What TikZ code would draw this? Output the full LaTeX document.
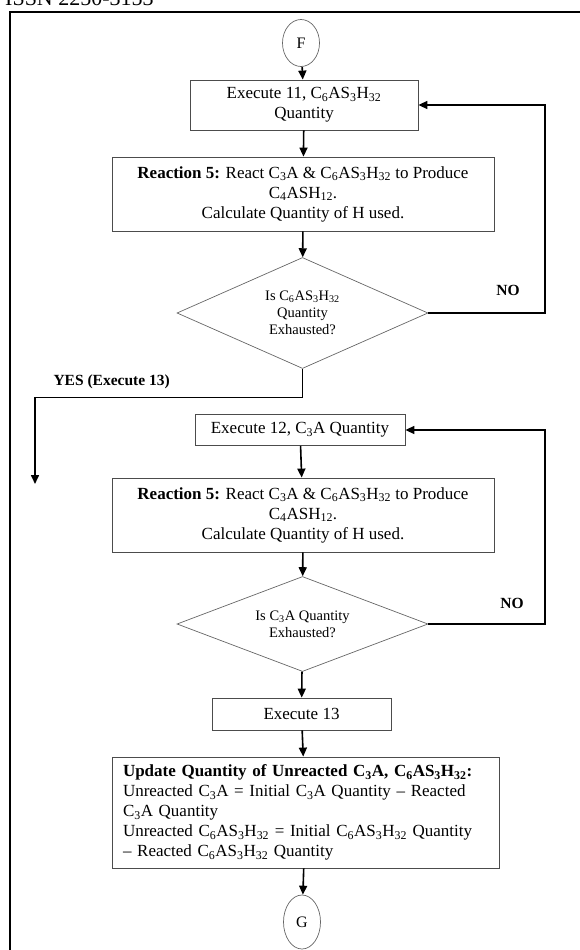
\documentclass[tikz,border=0pt]{standalone}
\usepackage{fontspec}
\setmainfont{Liberation Serif}
\usetikzlibrary{shapes.geometric,arrows.meta}
\newcommand{\chs}[1]{\textsubscript{#1}}
\begin{document}
\begin{tikzpicture}[x=1pt,y=-1pt,
  box/.style={draw=black!70,line width=0.8pt,rectangle,align=center,inner sep=1pt,
    font=\fontsize{17}{20}\selectfont},
  decide/.style={draw=black!60,line width=0.7pt,diamond,aspect=2.3,inner sep=0pt,align=center,
    font=\fontsize{14.5}{17}\selectfont},
  term/.style={draw=black!60,line width=0.7pt,ellipse,inner sep=0pt,font=\fontsize{16}{17}\selectfont},
  flow/.style={line width=1.6pt,-{Triangle[length=9pt,width=8pt]}},
  lbl/.style={font=\bfseries\fontsize{15.5}{17}\selectfont}]
\useasboundingbox (0,0) rectangle (579,950);

% header and page frame
\node[anchor=base west,inner sep=0pt,font=\fontsize{22}{22}\selectfont] (issn) at (5,6) {ISSN 2250-3153};
\draw[line width=1.5pt] (10,960) -- (10,12) -- (590,12);

% first loop
\node[term,minimum width=37pt,minimum height=47pt] (F) at (301,43) {F};
\node[box,minimum width=228pt,minimum height=50pt] (b1) at (304,105)
  {Execute 11, C\chs{6}AS\chs{3}H\chs{32}\\Quantity};
\node[box,minimum width=382pt,minimum height=74pt] (b2) at (303,194)
  {\textbf{Reaction 5:} React C\chs{3}A \& C\chs{6}AS\chs{3}H\chs{32} to Produce\\
   C\chs{4}ASH\chs{12}.\\Calculate Quantity of H used.};
\node[decide,minimum width=251pt,minimum height=111pt] (d1) at (302.5,313)
  {Is C\chs{6}AS\chs{3}H\chs{32}\\Quantity\\Exhausted?};
\node[lbl] (no1) at (508,290) {NO};
\coordinate (r1) at (545,105);

\draw[flow] (F) -- (b1);
\draw[flow] (b1) -- (b2);
\draw[flow] (b2) -- (d1);
\draw[flow] (d1.east) -| (r1) -- (b1.east);

% exit of the first loop
\coordinate (y1) at (35,397);
\coordinate (y2) at (35,484);
\node[lbl,anchor=west] (yes) at (50,382) {YES (Execute 13)};
\draw[line width=0.8pt] (d1.south) |- (y1);
\draw[flow] (y1) -- (y2);

% second loop
\node[box,minimum width=210pt,minimum height=31pt] (b3) at (300,430)
  {Execute 12, C\chs{3}A Quantity};
\node[box,minimum width=382pt,minimum height=74pt] (b4) at (303,515)
  {\textbf{Reaction 5:} React C\chs{3}A \& C\chs{6}AS\chs{3}H\chs{32} to Produce\\
   C\chs{4}ASH\chs{12}.\\Calculate Quantity of H used.};
\node[decide,minimum width=251pt,minimum height=95pt] (d2) at (302.5,624)
  {Is C\chs{3}A Quantity\\Exhausted?};
\node[lbl] (no2) at (512,603) {NO};
\coordinate (r2) at (545,430);

\draw[flow] (b3) -- (b4);
\draw[flow] (b4) -- (d2);
\draw[flow] (d2.east) -| (r2) -- (b3.east);

% final update
\node[box,minimum width=179pt,minimum height=32pt] (b5) at (301.5,714) {Execute 13};
\node[box,minimum height=111pt,align=left,text width=365pt,inner xsep=11pt] (b6) at (305.5,812.5)
  {\textbf{Update Quantity of Unreacted C\chs{3}A, C\chs{6}AS\chs{3}H\chs{32}:}\\
   Unreacted C\chs{3}A = Initial C\chs{3}A Quantity -- Reacted\\
   C\chs{3}A Quantity\\
   Unreacted C\chs{6}AS\chs{3}H\chs{32} = Initial C\chs{6}AS\chs{3}H\chs{32} Quantity\\
   -- Reacted C\chs{6}AS\chs{3}H\chs{32} Quantity};
\node[term,minimum width=37pt,minimum height=54pt] (G) at (302,922) {G};

\draw[flow] (d2) -- (b5);
\draw[flow] (b5) -- (b6);
\draw[flow] (b6) -- (G);
\end{tikzpicture}
\end{document}
